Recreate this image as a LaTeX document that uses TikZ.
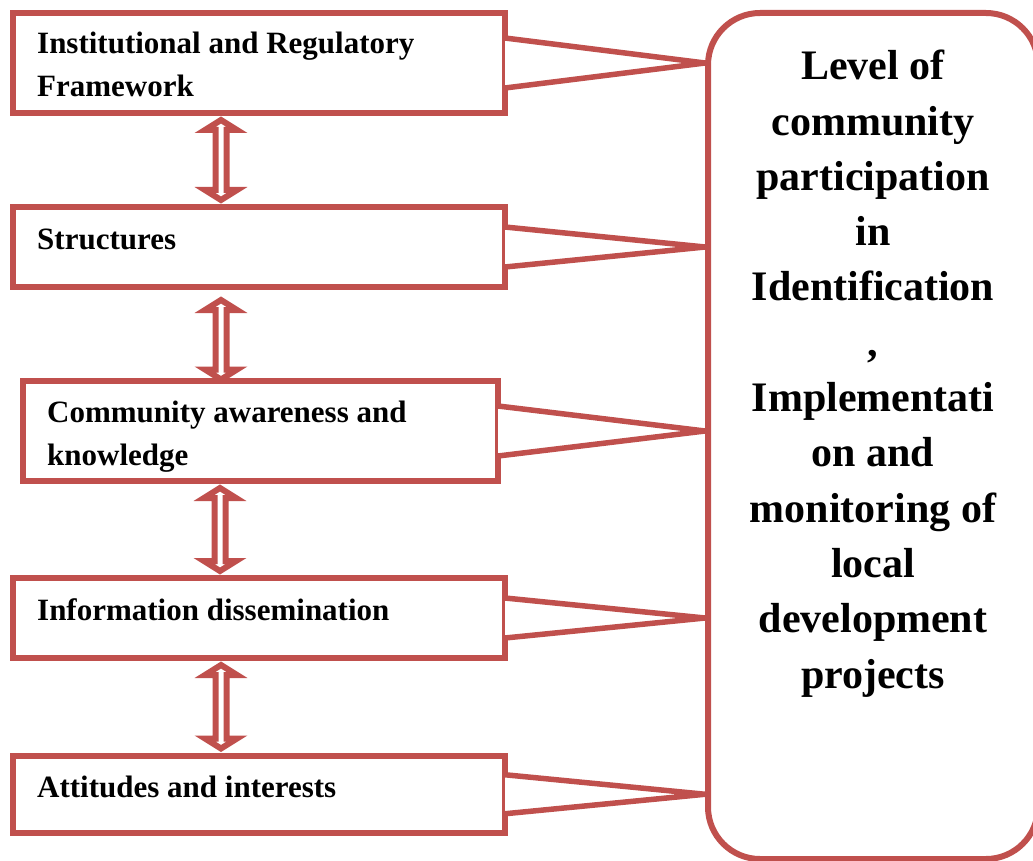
\documentclass[tikz,border=0pt]{standalone}
\usepackage{fontspec}
\setmainfont{Liberation Serif}
\usepackage{tikz}
\usetikzlibrary{positioning,calc}
\definecolor{accred}{RGB}{192,80,77}
\tikzset{lbox/.style={draw=accred, line width=6pt, minimum width=492pt, inner sep=0pt, outer sep=0pt}}
\tikzset{rbox/.style={draw=accred, line width=6pt, rounded corners=52pt, inner sep=0pt, outer sep=0pt}}
\tikzset{ltext/.style={font=\bfseries\fontsize{31}{43}\selectfont, align=left, inner sep=0pt, anchor=base west}}
\tikzset{rtext/.style={font=\bfseries\fontsize{42}{55.3}\selectfont, align=center, inner sep=0pt, anchor=base}}
\tikzset{fanln/.style={draw=accred, line width=5.5pt, fill=white, line join=bevel}}
\tikzset{dblarr/.style={draw=accred, line width=6pt, fill=white, line join=miter,
    to path={let \p1=(\tikztostart), \p2=(\tikztotarget) in
      (\x1,\y1) -- (\x1+16pt,\y1-10pt) -- (\x1+5.5pt,\y1-10pt) -- (\x1+5.5pt,\y2+10pt)
      -- (\x1+16pt,\y2+10pt) -- (\x1,\y2) -- (\x1-16pt,\y2+10pt) -- (\x1-5.5pt,\y2+10pt)
      -- (\x1-5.5pt,\y1-10pt) -- (\x1-16pt,\y1-10pt) -- cycle}}}

\begin{document}
\begin{tikzpicture}[x=1pt, y=-1pt]
    \useasboundingbox (0,0) rectangle (1033,861);
    % factor boxes
    \node[lbox, minimum height=100pt] (b1) at (259,63) {};
    \node[lbox, minimum height=80pt] (b2) at (259,247) {};
    \node[lbox, minimum width=475pt, minimum height=100pt] (b3) at (260.5,431) {};
    \node[lbox, minimum height=80pt] (b4) at (259,618) {};
    \node[lbox, minimum height=77.5pt] (b5) at (259,794.25) {};
    % outcome box
    \node[rbox, minimum width=330pt, minimum height=846pt] (rb) at (873,436) {};

    % lines into the outcome box
    \foreach \b/\d in {b1/25,b2/20,b3/25,b4/20,b5/19.5}
        \draw[fanln] ($(\b.east)-(0,\d)$) -- ($(\b.east -| rb.west)-(3,0)$) -- ($(\b.east)+(0,\d)$);

    % two-way arrows
    \coordinate (ax) at (221,0);
    \draw[dblarr] ($(b1.south -| ax)+(0,7)$) to ($(b2.north -| ax)-(0,7)$);
    \draw[dblarr] ($(b2.south -| ax)+(0,13)$) to ($(b3.north -| ax)+(0,-1.5)$);
    \draw[dblarr] ($(b3.south -| ax)+(-1,7)$) to ($(b4.north -| ax)-(0,7)$);
    \draw[dblarr] ($(b4.south -| ax)+(0,7)$) to ($(b5.north -| ax)-(0,7)$);

    % labels (base = last line)
    \node[ltext] (t1) at ($(b1.north west)+(24,84)$) {Institutional and Regulatory\\Framework};
    \node[ltext] (t2) at ($(b2.north west)+(24,42)$) {Structures};
    \node[ltext] (t3) at ($(b3.north west)+(24,84)$) {Community awareness and\\knowledge};
    \node[ltext] (t4) at ($(b4.north west)+(24,42)$) {Information dissemination};
    \node[ltext] (t5) at ($(b5.north west)+(24,41.5)$) {Attitudes and interests};
    \node[rtext] (rt) at ($(rb.north)+(0,675)$) {Level of\\community\\participation\\in\\Identification\\,\\Implementati\\on and\\monitoring of\\local\\development\\projects};
\end{tikzpicture}
\end{document}
